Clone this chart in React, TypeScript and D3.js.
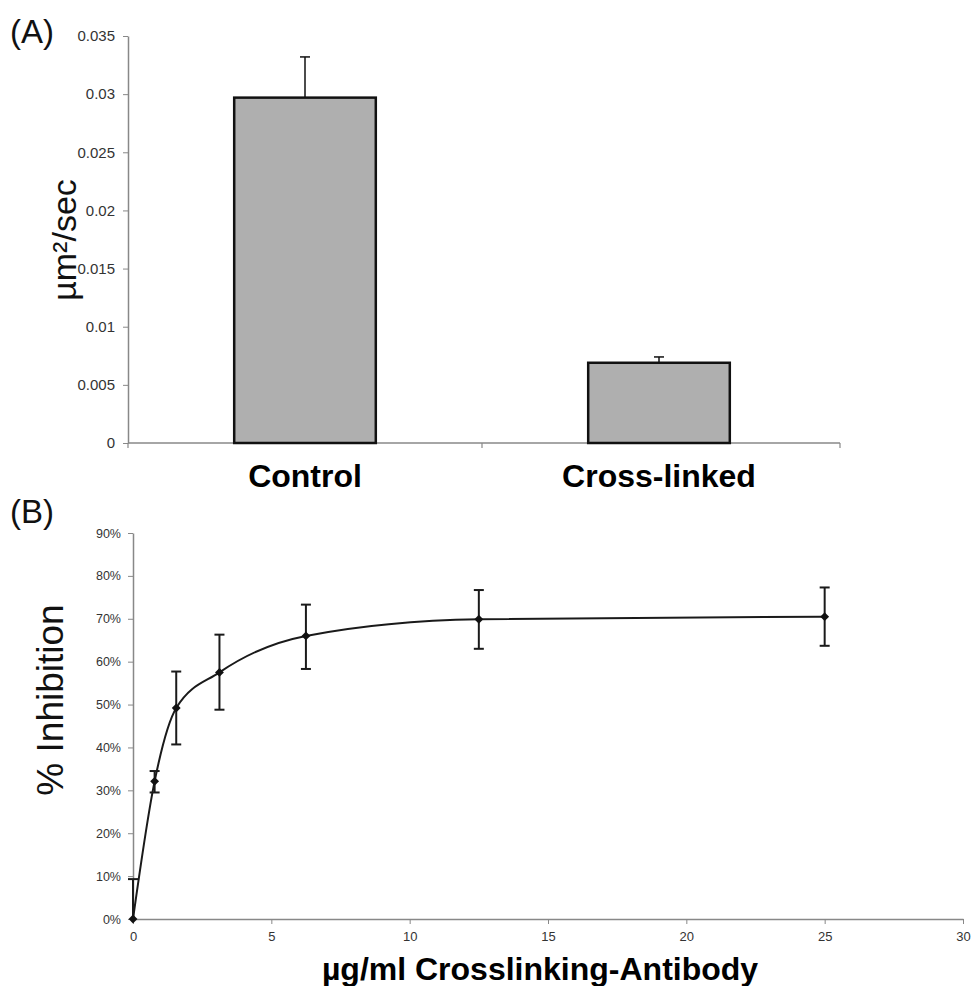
import React, { useRef, useEffect } from "react";
import * as d3 from "d3";

// panel A: diffusion coefficient
const categories = ["Control", "Cross-linked"];
const meanA = [0.0297, 0.0069];
const errA = [0.0035, 0.0005];
const ticksA = [0, 0.005, 0.01, 0.015, 0.02, 0.025, 0.03, 0.035];

// panel B: dose response
const dose = [0, 0.78125, 1.5625, 3.125, 6.25, 12.5, 25];
const inhibition = [0, 0.321, 0.492, 0.575, 0.66, 0.699, 0.705];
const errUp = [0.093, 0.024, 0.085, 0.088, 0.073, 0.068, 0.068];
const errDown = [0, 0.026, 0.085, 0.087, 0.077, 0.069, 0.068];
const ticksBx = [0, 5, 10, 15, 20, 25, 30];
const ticksBy = [0, 0.1, 0.2, 0.3, 0.4, 0.5, 0.6, 0.7, 0.8, 0.9];

const FONT = "'Liberation Sans', Arial, Helvetica, sans-serif";

const App = () => {
    const svgRef = useRef<SVGSVGElement>(null);

    useEffect(() => {
        const svg = d3.select(svgRef.current);
        svg.selectAll("*").remove();
        svg.attr("font-family", FONT);

        // ---------- (A) ----------
        const gA = svg.append("g");
        const yA = d3.scaleLinear().domain([0, 0.035]).range([443, 36]);
        const xA = d3
            .scaleBand()
            .domain(categories)
            .range([128, 836])
            .paddingInner(0.6)
            .paddingOuter(0.3);

        const yAxisA = d3
            .axisLeft(yA)
            .tickValues(ticksA)
            .tickFormat(d3.format(""))
            .tickSize(5)
            .tickSizeOuter(0)
            .tickPadding(8);

        gA.append("g")
            .attr("transform", "translate(128,0)")
            .call(yAxisA)
            .call((g) => g.select(".domain").attr("stroke", "#888").attr("stroke-width", 1.5))
            .call((g) => g.selectAll(".tick line").attr("stroke", "#888"))
            .selectAll("text")
            .attr("fill", "#333")
            .style("font-size", "15px")
            .style("font-family", FONT);

        // x axis line with category dividers
        gA.append("line")
            .attr("x1", 128).attr("x2", 840)
            .attr("y1", yA(0)).attr("y2", yA(0))
            .attr("stroke", "#888").attr("stroke-width", 1.5);
        const divider = (xA(categories[0])! + xA.bandwidth() + xA(categories[1])!) / 2;
        [128, divider, 840].forEach((x) => {
            gA.append("line")
                .attr("x1", x).attr("x2", x)
                .attr("y1", yA(0)).attr("y2", yA(0) + 5)
                .attr("stroke", "#888").attr("stroke-width", 1.2);
        });

        // error bars first, bars on top
        categories.forEach((c, i) => {
            const cx = xA(c)! + xA.bandwidth() / 2;
            gA.append("line")
                .attr("x1", cx).attr("x2", cx)
                .attr("y1", yA(meanA[i])).attr("y2", yA(meanA[i] + errA[i]))
                .attr("stroke", "#111").attr("stroke-width", 1.5);
            gA.append("line")
                .attr("x1", cx - 5).attr("x2", cx + 5)
                .attr("y1", yA(meanA[i] + errA[i])).attr("y2", yA(meanA[i] + errA[i]))
                .attr("stroke", "#111").attr("stroke-width", 1.5);
        });

        gA.selectAll(".bar")
            .data(categories)
            .enter()
            .append("rect")
            .attr("class", "bar")
            .attr("x", (d) => xA(d)!)
            .attr("y", (d, i) => yA(meanA[i]))
            .attr("width", xA.bandwidth())
            .attr("height", (d, i) => yA(0) - yA(meanA[i]))
            .attr("fill", "#afafaf")
            .attr("stroke", "#111")
            .attr("stroke-width", 2.5);

        gA.selectAll(".cat")
            .data(categories)
            .enter()
            .append("text")
            .attr("class", "cat")
            .attr("x", (d) => xA(d)! + xA.bandwidth() / 2)
            .attr("y", 487)
            .attr("text-anchor", "middle")
            .style("font-size", "32px")
            .style("font-weight", "bold")
            .attr("fill", "#000")
            .text((d) => d);

        gA.append("text")
            .attr("transform", "translate(76,240) rotate(-90)")
            .attr("text-anchor", "middle")
            .style("font-size", "34px")
            .attr("fill", "#111")
            .text("µm²/sec");

        svg.append("text")
            .attr("x", 10).attr("y", 43)
            .style("font-size", "33px")
            .attr("fill", "#111")
            .text("(A)");

        // ---------- (B) ----------
        const gB = svg.append("g");
        const xB = d3.scaleLinear().domain([0, 30]).range([133, 963]);
        const yB = d3.scaleLinear().domain([0, 0.9]).range([919, 533]);

        gB.append("g")
            .attr("transform", "translate(133,0)")
            .call(d3.axisLeft(yB).tickValues(ticksBy).tickFormat(d3.format(".0%")).tickSize(5).tickSizeOuter(0).tickPadding(7))
            .call((g) => g.select(".domain").attr("stroke", "#888").attr("stroke-width", 1.5))
            .call((g) => g.selectAll(".tick line").attr("stroke", "#888"))
            .selectAll("text")
            .attr("fill", "#333")
            .style("font-size", "12.5px")
            .style("font-family", FONT);

        gB.append("g")
            .attr("transform", `translate(0,${yB(0)})`)
            .call(d3.axisBottom(xB).tickValues(ticksBx).tickFormat(d3.format("d")).tickSize(5).tickSizeOuter(0))
            .call((g) => g.select(".domain").attr("stroke", "#888").attr("stroke-width", 1.5))
            .call((g) => g.selectAll(".tick line").attr("stroke", "#888"))
            .selectAll("text")
            .attr("fill", "#333")
            .attr("dy", "1.1em")
            .style("font-size", "13px")
            .style("font-family", FONT);

        const pts = dose.map((d, i) => [xB(d), yB(inhibition[i])] as [number, number]);
        const line = d3.line().curve(d3.curveMonotoneX);
        gB.append("path")
            .attr("d", line(pts))
            .attr("fill", "none")
            .attr("stroke", "#1a1a1a")
            .attr("stroke-width", 2);

        dose.forEach((d, i) => {
            const cx = xB(d);
            const top = yB(inhibition[i] + errUp[i]);
            const bot = yB(Math.max(0, inhibition[i] - errDown[i]));
            gB.append("line")
                .attr("x1", cx).attr("x2", cx).attr("y1", top).attr("y2", bot)
                .attr("stroke", "#1a1a1a").attr("stroke-width", 2);
            gB.append("line")
                .attr("x1", cx - 5).attr("x2", cx + 5).attr("y1", top).attr("y2", top)
                .attr("stroke", "#1a1a1a").attr("stroke-width", 2);
            if (errDown[i] > 0) {
                gB.append("line")
                    .attr("x1", cx - 5).attr("x2", cx + 5).attr("y1", bot).attr("y2", bot)
                    .attr("stroke", "#1a1a1a").attr("stroke-width", 2);
            }
        });

        gB.selectAll(".pt")
            .data(pts)
            .enter()
            .append("path")
            .attr("class", "pt")
            .attr("transform", (p) => `translate(${p[0]},${p[1]})`)
            .attr("d", d3.symbol(d3.symbolDiamond2, 50)())
            .attr("fill", "#111");

        gB.append("text")
            .attr("transform", "translate(63,700) rotate(-90)")
            .attr("text-anchor", "middle")
            .style("font-size", "37px")
            .attr("fill", "#111")
            .text("% Inhibition");

        gB.append("text")
            .attr("x", 540).attr("y", 980)
            .attr("text-anchor", "middle")
            .style("font-size", "32px")
            .style("font-weight", "bold")
            .attr("fill", "#000")
            .text("µg/ml Crosslinking-Antibody");

        svg.append("text")
            .attr("x", 10).attr("y", 523)
            .style("font-size", "33px")
            .attr("fill", "#111")
            .text("(B)");
    }, []);

    return (
        <svg
            ref={svgRef}
            width={974}
            height={986}
            style={{ position: "absolute", left: 0, top: 0, display: "block", background: "#fff" }}
        ></svg>
    );
};

export default App;
